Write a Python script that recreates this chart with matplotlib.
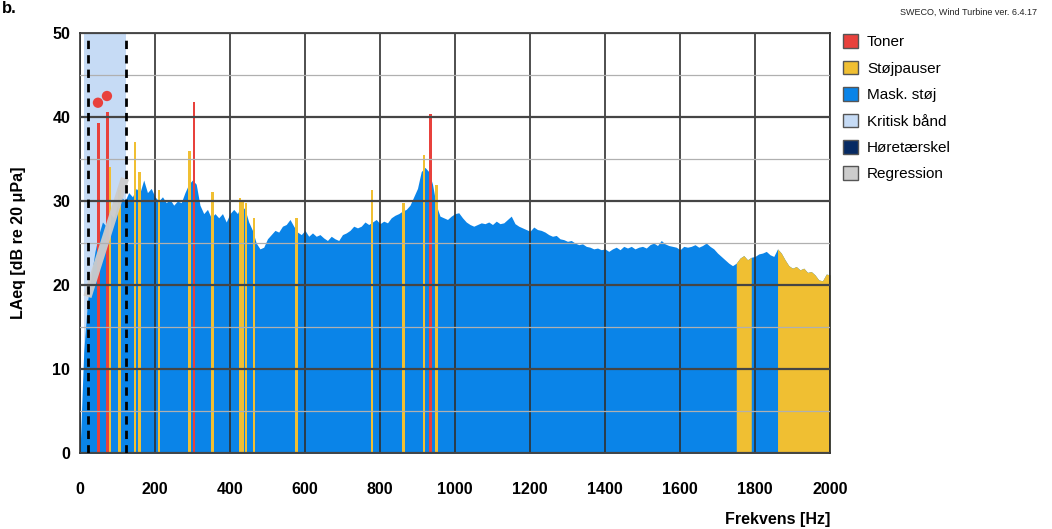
import numpy as np
import matplotlib.pyplot as plt
from matplotlib.patches import Patch
from matplotlib.ticker import MultipleLocator

plt.rcParams['font.family'] = ['Liberation Sans', 'DejaVu Sans']

# masking noise spectrum, 10 Hz steps from 0 to 2000 Hz
freq = np.arange(0, 2001, 10)
level = [
    0, 12, 18, 21, 24, 26, 27.5, 27, 28.5, 28,
    29.5, 30.5, 30, 31, 30.5, 31.5, 31, 32.5, 31, 31.5,
    30.5, 30, 30.5, 29.8, 30.2, 29.5, 30, 29.8, 31, 32,
    32.5, 32, 29.5, 28.5, 29, 28, 28.5, 28, 28.5, 27.5,
    28.5, 29, 28.5, 29.5, 29, 27.5, 26.5, 25, 24.3, 24.5,
    25.5, 26, 26.5, 26.3, 27, 27.2, 27.8, 27, 26.3, 26,
    26.5, 25.8, 26.2, 25.8, 26, 25.6, 25.3, 25.8, 25.5, 25.3,
    26, 26.2, 26.5, 27, 26.8, 27, 27.5, 27.2, 27.5, 27.8,
    27.3, 27.6, 27.4, 28, 28.3, 28.5, 28.8, 29, 29.5, 30.5,
    31.5, 33.5, 34, 33.5, 32, 29.5, 28.2, 28, 27.8, 28.2,
    28.5, 28.6, 28, 27.5, 27.2, 27, 27.2, 27.4, 27.3, 27.5,
    27.2, 27.6, 27.3, 27.4, 27.8, 28.2, 27.3, 27, 26.8, 26.6,
    26.4, 26.9, 26.6, 26.5, 26.3, 26, 25.8, 25.9, 25.5, 25.4,
    25.2, 25.3, 25, 24.8, 24.9, 24.6, 24.5, 24.3, 24.4, 24.2,
    24.3, 24, 24.3, 24.5, 24.2, 24.6, 24.4, 24.6, 24.3, 24.5,
    24.6, 24.4, 24.8, 25, 24.7, 25.3, 24.9, 24.7, 24.6, 24.5,
    24.2, 24.6, 24.5, 24.6, 24.8, 24.5, 24.7, 25, 24.6, 24.3,
    23.8, 23.4, 23, 22.6, 22.3, 22.6, 23.2, 23.5, 23, 23.3,
    23.4, 23.7, 23.8, 24, 23.6, 23.4, 24.3, 23.8, 23, 22.3,
    22, 22.2, 21.8, 22, 21.5, 21.6, 21.2, 20.6, 20.5, 21.3,
    21.2,
]
level = np.array(level)

# broadband noise pauses
pause_bands = [(1750, 1790), (1860, 2000)]

# narrow noise pauses (Hz, dB)
pause_freq = [78, 105, 147, 158, 211, 292, 353, 427, 434, 443, 464, 578, 779, 863, 917, 951]
pause_level = [34, 31.3, 37, 33.5, 31.3, 36, 31.1, 30.3, 30, 29.8, 28, 28, 31.3, 29.8, 35.5, 31.9]

# tones
tone_freq = [49, 73, 304, 935]
tone_level = [39.3, 40.6, 41.8, 40.4]

# tone points in critical band
dot_freq = [48, 72]
dot_level = [41.7, 42.5]

# critical band and regression line
band_lo, band_hi = 21, 123
reg_freq = [20, 120]
reg_level = [18.6, 32.7]

c_tone = '#e8413c'
c_pause = '#f0bf32'
c_noise = '#0a84e8'
c_band = '#c6dbf5'
c_thr = '#062a63'
c_reg = '#cccccc'

fig = plt.figure(figsize=(10.52, 5.29), dpi=100, facecolor='white')
ax = fig.add_axes([0.076, 0.1437, 0.713, 0.7939])

ax.axvspan(12, band_hi, color=c_band, zorder=0, lw=0)
ax.fill_between(freq, 0, level, color=c_noise, lw=0, zorder=1)
for lo, hi in pause_bands:
    m = (freq >= lo) & (freq <= hi)
    ax.fill_between(freq, 0, level, where=m, color=c_pause, lw=0, zorder=1.1)

ax.bar(pause_freq, pause_level, width=7, color=c_pause, lw=0, zorder=1.2)
ax.bar(tone_freq, tone_level, width=7, color=c_tone, lw=0, zorder=1.3)

ax.plot(reg_freq, reg_level, color=c_reg, lw=6, alpha=0.95, solid_capstyle='butt', zorder=1.4)

for f in (band_lo, band_hi):
    ax.plot([f, f], [0, 49.2], color='black', lw=2, ls=(0, (3, 2.2)), zorder=3)

ax.scatter(dot_freq, dot_level, s=55, color=c_tone, edgecolor='none', zorder=4)

ax.set_xlim(0, 2000)
ax.set_ylim(0, 50)
ax.xaxis.set_major_locator(MultipleLocator(200))
ax.yaxis.set_major_locator(MultipleLocator(10))
ax.yaxis.set_minor_locator(MultipleLocator(5))
ax.set_axisbelow(False)
ax.grid(axis='x', which='major', color='#303030', lw=1.2)
ax.grid(axis='y', which='major', color='#454545', lw=1.6)
ax.grid(axis='y', which='minor', color='#b0b0b0', lw=0.9)
ax.tick_params(axis='both', which='both', length=0)
ax.tick_params(axis='x', pad=21, labelsize=11.5)
ax.tick_params(axis='y', pad=7, labelsize=11.5)
for lab in ax.get_xticklabels() + ax.get_yticklabels():
    lab.set_fontweight('bold')
for spine in ax.spines.values():
    spine.set_color('#303030')
    spine.set_linewidth(1.2)

ax.set_ylabel('LAeq [dB re 20 μPa]', fontsize=11.5, fontweight='bold', labelpad=19)
fig.text(0.789, 0.003, 'Frekvens [Hz]', ha='right', va='bottom', fontsize=11.5, fontweight='bold')
fig.text(0.986, 0.977, 'SWECO, Wind Turbine ver. 6.4.17', ha='right', va='center', fontsize=6.5, color='#222222')
fig.text(0.002, 0.998, 'b.', ha='left', va='top', fontsize=12, fontweight='bold')

handles = [
    Patch(facecolor=c_tone, edgecolor='#555555', label='Toner'),
    Patch(facecolor=c_pause, edgecolor='#555555', label='Støjpauser'),
    Patch(facecolor=c_noise, edgecolor='#555555', label='Mask. støj'),
    Patch(facecolor=c_band, edgecolor='#555555', label='Kritisk bånd'),
    Patch(facecolor=c_thr, edgecolor='#555555', label='Høretærskel'),
    Patch(facecolor=c_reg, edgecolor='#555555', label='Regression'),
]
fig.legend(handles=handles, loc='upper left', bbox_to_anchor=(0.801, 0.935), frameon=False,
           fontsize=11, handlelength=1.0, handleheight=1.0, handletextpad=0.6,
           labelspacing=0.74, borderpad=0, borderaxespad=0)

plt.savefig('out.png', dpi=100, facecolor='white')
